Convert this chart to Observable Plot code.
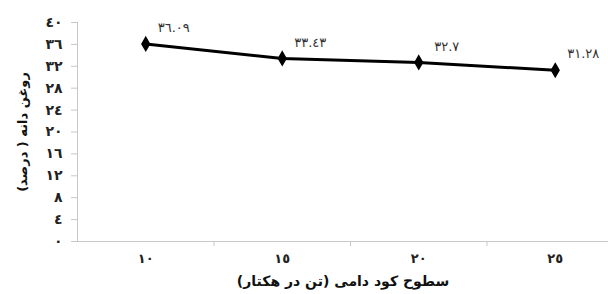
<!DOCTYPE html>
<html><head><meta charset="utf-8">
<script src="https://cdn.jsdelivr.net/npm/d3@7"></script>
<script src="https://cdn.jsdelivr.net/npm/@observablehq/plot@0.6"></script>
<style>body{margin:0;background:#fff}</style>
</head><body><div id="chart"></div>
<script>
const categories = [10, 15, 20, 25];
const oilPercent = [36.09, 33.43, 32.7, 31.28];
const valueLabels = ["36.09", "33.43", "32.7", "31.28"];
const yTicks = [0, 4, 8, 12, 16, 20, 24, 28, 32, 36, 40];
const xTitle = "سطوح کود دامی (تن در هکتار)";
const yTitle = "روغن دانه ( درصد)";

const fa = s => String(s).replace(/\d/g, d => "٠١٢٣٤٥٦٧٨٩"[d]);
const data = categories.map((c, i) => ({x: c, y: oilPercent[i], label: valueLabels[i]}));
const step = categories[1] - categories[0];
const boundaries = categories.slice(0, -1).map((c, i) => (c + categories[i + 1]) / 2);

const chart = Plot.plot({
  width: 608, height: 294,
  marginTop: 22, marginBottom: 53, marginLeft: 77, marginRight: 0,
  style: {fontFamily: "DejaVu Sans", background: "#fff"},
  x: {type: "linear", domain: [categories[0] - step / 2, categories[categories.length - 1] + step / 2], range: [77, 623]},
  y: {domain: [0, 40]},
  marks: [
    Plot.ruleX([categories[0] - step / 2], {stroke: "#c8c8c8", y1: 0, y2: 40}),
    Plot.ruleY([0], {stroke: "#c8c8c8", x1: categories[0] - step / 2, x2: categories[categories.length - 1] + step / 2}),
    Plot.axisY({ticks: yTicks, tickFormat: fa, tickSize: 6, tickPadding: 9, stroke: "#c8c8c8", fontSize: 14, fontWeight: "bold", fill: "#222", label: null}),
    Plot.axisX({ticks: boundaries, tickFormat: () => "", tickSize: 5, stroke: "#c8c8c8", label: null}),
    Plot.axisX({ticks: categories, tickFormat: fa, tickSize: 0, tickPadding: 12, fontSize: 13, fontWeight: "bold", fill: "#222", label: null}),
    Plot.text([xTitle], {frameAnchor: "bottom", textAnchor: "middle", dy: 44, fontSize: 14, fontWeight: "bold", fill: "#111"}),
    Plot.text([yTitle], {frameAnchor: "left", textAnchor: "middle", dx: -55, rotate: -90, fontSize: 13, fontWeight: "bold", fill: "#111"}),
    Plot.line(data, {x: "x", y: "y", stroke: "#000", strokeWidth: 3}),
    Plot.dot(data, {x: "x", y: "y", symbol: "diamond", r: 4, fill: "#000", stroke: "#000"}),
    Plot.text(data, {x: "x", y: "y", text: d => fa(d.label), dx: 28, dy: -16, fontSize: 13, fill: "#333"})
  ]
});
document.getElementById("chart").append(chart);
</script></body></html>
